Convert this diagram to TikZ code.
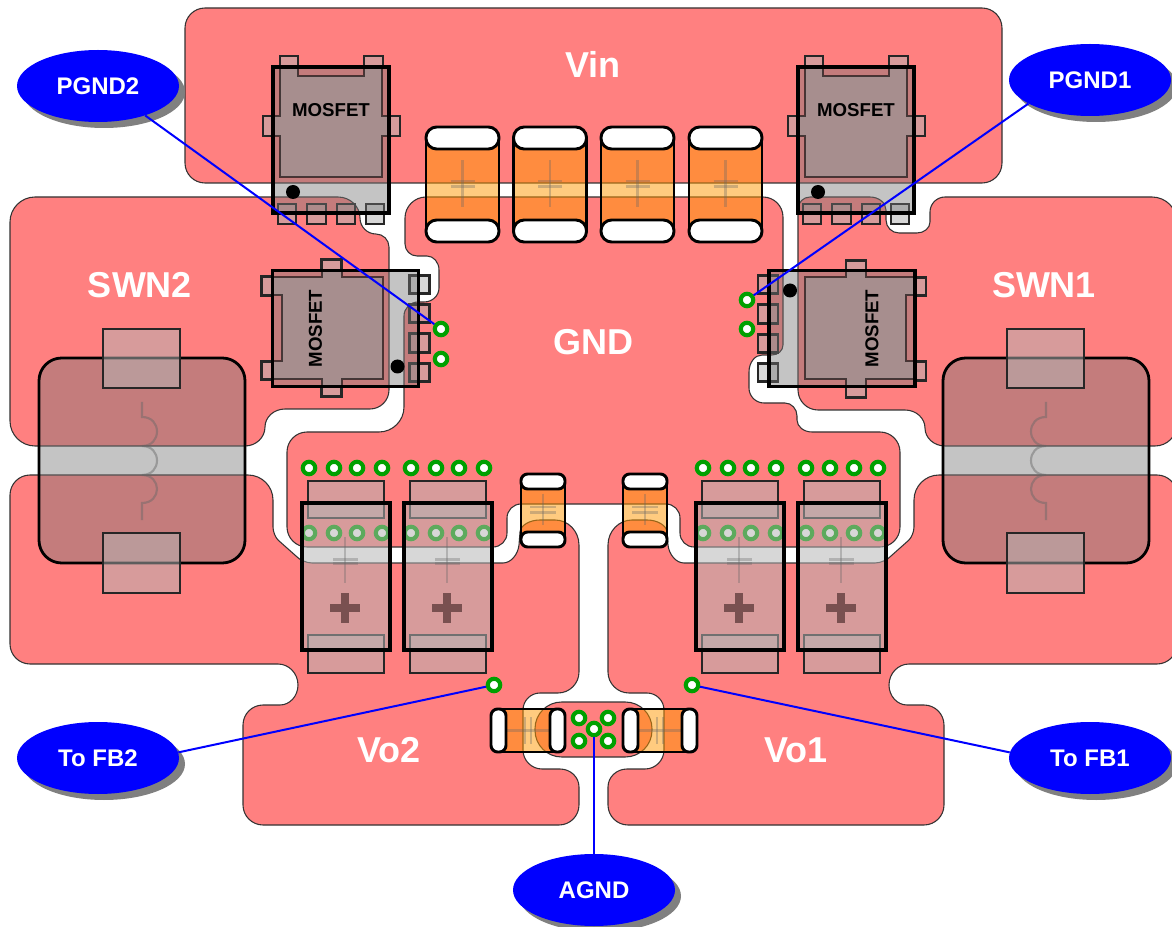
\documentclass[tikz,border=0pt]{standalone}
\usepackage{fontspec}
\setmainfont{Liberation Sans}
\usetikzlibrary{shapes.geometric,shadows}
\definecolor{copperred}{HTML}{FF8080}
\definecolor{viagreen}{HTML}{00A000}
\definecolor{plusdark}{HTML}{795050}
\definecolor{padgray}{RGB}{180,180,180}
\definecolor{casegray}{RGB}{119,119,119}
\definecolor{diegray}{RGB}{140,160,160}
\definecolor{capcolor}{RGB}{255,152,0}
\definecolor{leadblue}{RGB}{0,0,255}
\tikzset{
 copper/.style={fill=copperred,draw=black!80,line width=0.8pt},
 padfill/.style={fill=padgray,fill opacity=.52},
 padline/.style={draw=black!85,line width=1.6pt},
 casefill/.style={fill=casegray,fill opacity=.43},
 caseline/.style={draw=black,line width=2.7pt},
 coilbody/.style={draw=black,line width=2.1pt},
 diefill/.style={fill=diegray,fill opacity=.5},
 dieline/.style={draw=black,draw opacity=.6,line width=1.5pt},
 capbody/.style={fill=capcolor,fill opacity=.5},
 capline/.style={draw=black,line width=2.1pt},
 capend/.style={fill=white,draw=black,line width=2.2pt},
 symline/.style={draw=black!60,draw opacity=.33,line width=1.6pt},
 coilline/.style={draw=black!60,draw opacity=.45,line width=1.6pt},
 via/.style={circle,draw=viagreen,line width=3.1pt,fill=white,inner sep=0pt,minimum size=9.3pt},
 lead/.style={draw=leadblue,line width=1.5pt},
 callout/.style={ellipse,fill=leadblue,text=white,inner sep=0pt,minimum width=121.5pt,minimum height=54pt,font=\bfseries\fontsize{18}{18}\selectfont,
   general shadow={fill=black!50,shadow xshift=4.5pt,shadow yshift=-4.5pt}},
 netlabel/.style={text=white,inner sep=0pt,font=\bfseries\fontsize{27}{27}\selectfont},
 mostext/.style={text=black,inner sep=0pt,font=\bfseries\fontsize{14}{14}\selectfont},
}
% line to (x0,y0), then a rounded corner over vertex (vx,vy) to (x1,y1)
\newcommand{\cc}[6]{-- (#1,#2) .. controls ({#1+.55*(#3-#1)},{#2+.55*(#4-#2)}) and ({#5+.55*(#3-#5)},{#6+.55*(#4-#6)}) .. (#5,#6) }
% closed four-sided outline
\newcommand{\bx}[4]{(#1,#2) -- (#3,#2) -- (#3,#4) -- (#1,#4) -- cycle}
\newcommand{\padshape}[4]{\fill[padfill] \bx{#1}{#2}{#3}{#4}; \draw[padline] \bx{#1}{#2}{#3}{#4};}
\newcommand{\mosfetpart}[5]{%
 \begin{scope}[shift={(#1,#2)},rotate=#3]
  \foreach \a/\b in {-51/-33,33/52}{\padshape{\a}{-84}{\b}{-73}}
  \padshape{-68}{-24}{-58}{-4}
  \padshape{58}{-24}{69}{-4}
  \foreach \a/\b in {-53/-35,-24/-5,6/24,35/53}{\padshape{\a}{64}{\b}{84}}
  \fill[casefill] \bx{-58}{-73}{58}{73};
  \fill[diefill] (-51,-73) -- (-51,-24) -- (-58,-24) -- (-58,-4) -- (-51,-4) -- (-51,37) -- (51,37) -- (51,-4) -- (58,-4) -- (58,-24) -- (51,-24) -- (51,-73) -- (33,-73) -- (33,-64) -- (-33,-64) -- (-33,-73) -- cycle;
  \draw[dieline] (-51,-73) -- (-51,-24) -- (-58,-24) -- (-58,-4) -- (-51,-4) -- (-51,37) -- (51,37) -- (51,-4) -- (58,-4) -- (58,-24) -- (51,-24) -- (51,-73) -- (33,-73) -- (33,-64) -- (-33,-64) -- (-33,-73) -- cycle;
  \draw[caseline] \bx{-58}{-73}{58}{73};
  \fill[black] (-38,52) circle[radius=7];
  \node[mostext,rotate=#4] (#5) at (0,-30) {MOSFET};
 \end{scope}}
\newcommand{\vertcap}[7]{% x1 y1 x2 y2 endheight radius(pt) plateW
 \fill[capbody] (#1,#2+#5/2) rectangle (#3,#4-#5/2);
 \draw[capline] (#1,#2+#5/2) -- (#1,#4-#5/2);
 \draw[capline] (#3,#2+#5/2) -- (#3,#4-#5/2);
 \draw[symline] ({(#1+#3)/2},{(#2+#4)/2-#5*1.05-1}) -- ({(#1+#3)/2},{(#2+#4)/2+#5*1.05-1});
 \draw[symline] ({(#1+#3)/2-#7},{(#2+#4)/2-3.5}) -- ({(#1+#3)/2+#7},{(#2+#4)/2-3.5});
 \draw[symline] ({(#1+#3)/2-#7},{(#2+#4)/2+2}) -- ({(#1+#3)/2+#7},{(#2+#4)/2+2});
 \draw[capend,rounded corners=#6pt] (#1,#2) rectangle (#3,#2+#5);
 \draw[capend,rounded corners=#6pt] (#1,#4-#5) rectangle (#3,#4);}
\newcommand{\horzcap}[2]{% x1 x2
 \fill[capbody] (#1+8,709) rectangle (#2-8,752);
 \draw[capline] (#1+8,709) -- (#2-8,709);
 \draw[capline] (#1+8,752) -- (#2-8,752);
 \draw[symline] (#1+12,730.5) -- (#2-12,730.5);
 \draw[symline] ({(#1+#2)/2-3},717) -- ({(#1+#2)/2-3},744);
 \draw[symline] ({(#1+#2)/2+3},717) -- ({(#1+#2)/2+3},744);
 \draw[capend,rounded corners=5pt] (#1,709) rectangle (#1+15,752);
 \draw[capend,rounded corners=5pt] (#2-15,709) rectangle (#2,752);}
\newcommand{\tantalum}[1]{% left x of body
 \padshape{#1+6}{481}{#1+82}{518}
 \padshape{#1+6}{635}{#1+82}{673}
 \fill[padfill] \bx{#1}{503}{#1+88}{650};
 \draw[caseline] \bx{#1}{503}{#1+88}{650};
 \draw[symline] (#1+43,537) -- (#1+43,583);
 \draw[symline] (#1+31,559.5) -- (#1+56,559.5);
 \draw[symline] (#1+31,563.5) -- (#1+56,563.5);
 \fill[plusdark] (#1+39,593) rectangle (#1+47,623);
 \fill[plusdark] (#1+28,604) rectangle (#1+58,612);}
\newcommand{\inductor}[1]{% left x of body
 \fill[casefill,rounded corners=17pt] (#1,358) rectangle (#1+206,563);
 \draw[coilbody,rounded corners=17pt] (#1,358) rectangle (#1+206,563);
 \padshape{#1+64}{329}{#1+141}{388}
 \padshape{#1+64}{533}{#1+141}{593}}
\newcommand{\lowershape}{%
 \path[copper] (10,560) \cc{10}{495}{10}{475}{30}{475} \cc{248}{475}{273}{475}{273}{500} \cc{273}{527}{273}{535}{278}{540} \cc{296}{556}{302}{563}{312}{563} \cc{503}{563}{517}{563}{519}{545} \cc{520}{532}{521}{520}{540}{520} \cc{555}{520}{579}{520}{579}{545} \cc{579}{672}{579}{693}{558}{693} \cc{540}{693}{523}{693}{523}{710} \cc{523}{750}{523}{769}{542}{769} \cc{560}{769}{579}{769}{579}{787} \cc{579}{805}{579}{825}{559}{825} \cc{263}{825}{243}{825}{243}{805} \cc{243}{725}{243}{705}{263}{705} \cc{280}{705}{298}{705}{298}{685} \cc{298}{685}{298}{664}{278}{664} \cc{30}{664}{10}{664}{10}{644} -- cycle;}
\begin{document}
\begin{tikzpicture}[x=0.75pt,y=-0.75pt]
\useasboundingbox (0,0) rectangle (1172,927);
\clip (0,0) rectangle (1172,927);
\fill[white] (0,0) rectangle (1172,927);
% copper pours
\path[copper,rounded corners=15pt] (185,8) rectangle (1002,183);
\path[copper] (10,300) \cc{10}{222}{10}{197}{35}{197} \cc{338}{197}{360}{197}{360}{218} \cc{360}{218}{360}{234}{376}{234} \cc{376}{234}{389}{234}{389}{247} \cc{389}{390}{389}{409}{370}{409} \cc{285}{409}{265}{409}{265}{427} \cc{265}{427}{265}{446}{245}{446} \cc{35}{446}{10}{446}{10}{421} -- cycle;
\path[copper] (1177,300) \cc{1177}{222}{1177}{197}{1152}{197} \cc{945}{197}{930}{197}{930}{212} \cc{930}{222}{930}{233}{917}{233} \cc{899}{233}{886}{233}{886}{220} \cc{886}{210}{886}{197}{870}{197} \cc{810}{197}{798}{197}{798}{209} \cc{798}{390}{798}{410}{818}{410} \cc{905}{410}{925}{410}{925}{428} \cc{925}{428}{925}{446}{945}{446} \cc{1155}{446}{1177}{446}{1177}{424} -- cycle;
\path[copper] (600,197) \cc{763}{197}{783}{197}{783}{217} \cc{783}{345}{783}{355}{772}{355} \cc{762}{355}{749}{355}{749}{372} \cc{749}{388}{749}{403}{764}{403} \cc{785}{403}{797}{403}{797}{416} \cc{797}{420}{797}{432}{812}{432} \cc{880}{432}{900}{432}{900}{452} \cc{900}{527}{900}{547}{880}{547} \cc{694}{547}{680}{547}{680}{533} \cc{680}{518}{680}{504}{666}{504} \cc{521}{504}{507}{504}{507}{518} \cc{507}{533}{507}{547}{493}{547} \cc{307}{547}{287}{547}{287}{527} \cc{287}{452}{287}{432}{307}{432} \cc{379}{432}{404}{432}{404}{407} \cc{404}{316}{404}{302}{418}{302} \cc{424}{302}{439}{302}{439}{288} \cc{439}{270}{439}{256}{427}{256} \cc{417}{256}{405}{256}{405}{244} \cc{405}{218}{405}{197}{426}{197} -- cycle;
\lowershape
\begin{scope}[shift={(1187,0)},xscale=-1]
\lowershape
\end{scope}
\path[copper,rounded corners=20pt] (535,702) rectangle (652,757);
% vias
\foreach \x [count=\i] in {309,334,357,382,411,436,459,484,703,728,751,776,806,830,854,878}{
 \node[via] (viaa\i) at (\x,468) {};
 \node[via] (viab\i) at (\x,533) {};
}
\node[via] (vpgndtwo) at (441,329) {};
\node[via] (vpgndtwob) at (441,359) {};
\node[via] (vpgndone) at (747,300) {};
\node[via] (vpgndoneb) at (747,329) {};
\node[via] (vfbtwo) at (494,685) {};
\node[via] (vfbone) at (692,685) {};
\node[via] (vag1) at (579,718) {};
\node[via] (vag2) at (608,718) {};
\node[via] (vag3) at (579,741) {};
\node[via] (vag4) at (608,741) {};
\node[via] (vag5) at (594,729) {};
% capacitors
\foreach \x in {425,512.5,600,688}{\vertcap{\x+1}{127}{\x+74}{242}{22}{8}{12}}
\vertcap{521}{474}{565}{547}{15}{5}{13}
\vertcap{623}{474}{667}{547}{15}{5}{13}
\horzcap{491}{565}
\horzcap{623}{697}
% tantalum capacitors
\foreach \x in {302,404,696,798}{\tantalum{\x}}
% inductors
\inductor{39}
\inductor{943}
\draw[coilline] (142,402) -- (142,417) .. controls (152,417) and (157,424) .. (157,431.5) .. controls (157,439) and (152,446) .. (142,446) .. controls (152,446) and (157,453) .. (157,460.5) .. controls (157,468) and (152,475) .. (142,475) .. controls (152,475) and (157,482) .. (157,489) .. controls (157,496) and (152,503) .. (142,503) -- (142,520);
\draw[coilline] (1046,402) -- (1046,417) .. controls (1036,417) and (1031,424) .. (1031,431.5) .. controls (1031,439) and (1036,446) .. (1046,446) .. controls (1036,446) and (1031,453) .. (1031,460.5) .. controls (1031,468) and (1036,475) .. (1046,475) .. controls (1036,475) and (1031,482) .. (1031,489) .. controls (1031,496) and (1036,503) .. (1046,503) -- (1046,520);
% MOSFETs
\mosfetpart{331}{140}{0}{0}{mosa}
\mosfetpart{856}{140}{0}{0}{mosb}
\mosfetpart{345.5}{328.5}{90}{90}{mosc}
\mosfetpart{842}{328.5}{-90}{90}{mosd}
% net labels
\node[netlabel] (lvin) at (593,64) {Vin};
\node[netlabel] (lswntwo) at (140,285) {SWN2};
\node[netlabel] (lswnone) at (1044,285) {SWN1};
\node[netlabel] (lgnd) at (593,342) {GND};
\node[netlabel] (lvotwo) at (389,750) {Vo2};
\node[netlabel] (lvoone) at (796,750) {Vo1};
% callouts
\node[callout] (pgndtwo) at (98,86) {PGND2};
\node[callout] (pgndone) at (1090,80) {PGND1};
\node[callout] (fbtwo) at (98,758) {To FB2};
\node[callout] (fbone) at (1090,758) {To FB1};
\node[callout] (agnd) at (594,890) {AGND};
\draw[lead] (pgndtwo.-32) -- (vpgndtwo);
\draw[lead] (pgndone.201) -- (vpgndone);
\draw[lead] (fbtwo.4) -- (vfbtwo);
\draw[lead] (fbone.176) -- (vfbone);
\draw[lead] (agnd) -- (vag5);
\end{tikzpicture}
\end{document}
